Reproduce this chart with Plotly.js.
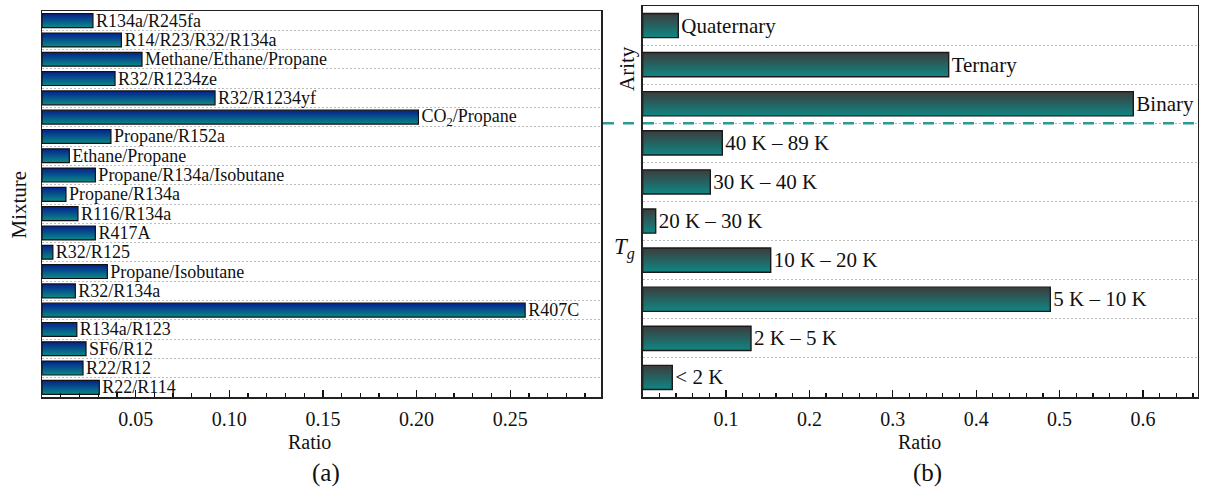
<!DOCTYPE html>
<html>
<head>
<meta charset="utf-8">
<script src="https://cdn.plot.ly/plotly-3.0.1.min.js"></script>
<style>
  html, body { margin: 0; padding: 0; background: #fff; }
  #chart { width: 1205px; height: 493px; }
</style>
</head>
<body>
<div id="chart"></div>
<script>
// (a) share of each mixture in the data set
const mixtures = [
  'R134a/R245fa', 'R14/R23/R32/R134a', 'Methane/Ethane/Propane', 'R32/R1234ze',
  'R32/R1234yf', 'CO<sub>2</sub>/Propane', 'Propane/R152a', 'Ethane/Propane',
  'Propane/R134a/Isobutane', 'Propane/R134a', 'R116/R134a', 'R417A', 'R32/R125',
  'Propane/Isobutane', 'R32/R134a', 'R407C', 'R134a/R123', 'SF6/R12', 'R22/R12', 'R22/R114'
];
const mixtureRatio = [
  0.0272, 0.0424, 0.0534, 0.0390,
  0.0924, 0.2010, 0.0368, 0.0146,
  0.0285, 0.0128, 0.0192, 0.0285, 0.0058,
  0.0349, 0.0178, 0.2580, 0.0186, 0.0235, 0.0219, 0.0306
];

// (b) share by number of components and by temperature glide
const groups = [
  'Quaternary', 'Ternary', 'Binary',
  '40 K – 89 K', '30 K – 40 K', '20 K – 30 K', '10 K – 20 K',
  '5 K – 10 K', '2 K – 5 K', '&lt; 2 K'
];
const groupRatio = [
  0.0428, 0.3670, 0.5884,
  0.0956, 0.0812, 0.0157, 0.1536,
  0.4889, 0.1300, 0.0356
];

const ticksA = [0.05, 0.10, 0.15, 0.20, 0.25];
const ticksB = [0.1, 0.2, 0.3, 0.4, 0.5, 0.6];

const SERIF = 'Liberation Serif';
const W = 1205, H = 493;
const px = v => v / W;
const py = v => (H - v) / H;

// vertical fills for the bars (top -> bottom)
const gradA = [['0%', '#04208f'], ['100%', '#0a8a86']];
const gradB = [['0%', '#3c3c3c'], ['100%', '#0f8784']];

const barA = {
  type: 'bar', orientation: 'h',
  x: mixtureRatio, y: mixtures,
  xaxis: 'x', yaxis: 'y',
  width: 0.72,
  marker: { color: '#05508a', line: { color: '#111', width: 1.2 } },
  text: mixtures, textposition: 'outside', cliponaxis: false, constraintext: 'none',
  textfont: { family: SERIF, size: 18, color: '#111' },
  hoverinfo: 'skip'
};

const barB = {
  type: 'bar', orientation: 'h',
  x: groupRatio, y: groups,
  xaxis: 'x2', yaxis: 'y2',
  width: 0.62,
  marker: { color: '#236262', line: { color: '#1a1a1a', width: 1.4 } },
  text: groups, textposition: 'outside', cliponaxis: false, constraintext: 'none',
  textfont: { family: SERIF, size: 21, color: '#111' },
  hoverinfo: 'skip'
};

const frame = { showline: true, linecolor: '#222', linewidth: 1.5, mirror: true, zeroline: false };

function ratioAxis(domain, range, vals, digits, minorStep) {
  return Object.assign({
    domain: domain, range: range,
    tickmode: 'array', tickvals: vals, ticktext: vals.map(v => v.toFixed(digits)),
    ticks: 'inside', ticklen: 7, tickwidth: 1.3, tickcolor: '#111',
    minor: { tickmode: 'linear', tick0: 0, dtick: minorStep, ticks: 'inside',
             ticklen: 4, tickwidth: 1.2, tickcolor: '#111', showgrid: false },
    showgrid: false,
    ticklabelstandoff: 3,
    tickfont: { family: SERIF, size: 20, color: '#111' }
  }, frame);
}

function categoryAxis(domain, n) {
  return Object.assign({
    domain: domain, type: 'category', range: [n - 0.5, -0.5],
    tickson: 'boundaries', ticks: '', showticklabels: false,
    showgrid: true, gridcolor: '#bcbcbc', gridwidth: 1, griddash: '2px,2px'
  }, frame);
}

const annFont = (size) => ({ family: SERIF, size: size, color: '#111' });
const label = (text, x, y, size, extra) => Object.assign({
  text: text, xref: 'paper', yref: 'paper', x: px(x), y: py(y),
  xanchor: 'center', yanchor: 'middle', showarrow: false, font: annFont(size)
}, extra || {});

const layout = {
  width: W, height: H,
  margin: { l: 0, r: 0, t: 0, b: 0 },
  paper_bgcolor: '#fff', plot_bgcolor: '#fff',
  showlegend: false,
  font: { family: SERIF, color: '#111' },
  xaxis: Object.assign(ratioAxis([px(42), px(601)], [0, 0.2985], ticksA, 2, 0.01), { anchor: 'y' }),
  yaxis: Object.assign(categoryAxis([py(397), py(11)], mixtures.length), { anchor: 'x' }),
  xaxis2: Object.assign(ratioAxis([px(642.6), px(1197.7)], [0, 0.6656], ticksB, 1, 0.02), { anchor: 'y2' }),
  yaxis2: Object.assign(categoryAxis([py(397), py(6)], groups.length), { anchor: 'x2' }),
  shapes: [{
    // separator between the arity block and the glide block
    type: 'line', xref: 'paper', yref: 'y2',
    x0: px(603), x1: px(1201), y0: 2.5, y1: 2.5,
    line: { color: '#2a9a9a', width: 2.5, dash: '11px,9px' }
  }],
  annotations: [
    label('Ratio', 310, 442, 20),
    label('Ratio', 919, 442, 20),
    label('(a)', 326, 473, 25),
    label('(b)', 927, 473, 25),
    label('Mixture', 18.5, 205, 21, { textangle: -90 }),
    label('Arity', 627, 69, 21, { textangle: -90 }),
    label('<i>T</i><sub><i>g</i></sub>', 624, 249, 23)
  ]
};

const gd = document.getElementById('chart');

function addGradient(defs, id, stops) {
  const ns = 'http://www.w3.org/2000/svg';
  const g = document.createElementNS(ns, 'linearGradient');
  g.setAttribute('id', id);
  g.setAttribute('x1', '0'); g.setAttribute('y1', '0');
  g.setAttribute('x2', '0'); g.setAttribute('y2', '1');
  stops.forEach(([offset, color]) => {
    const s = document.createElementNS(ns, 'stop');
    s.setAttribute('offset', offset);
    s.setAttribute('stop-color', color);
    g.appendChild(s);
  });
  defs.appendChild(g);
}

function applyGradients() {
  const svg = gd.querySelector('svg.main-svg');
  let defs = svg.querySelector('defs');
  if (!defs) {
    defs = document.createElementNS('http://www.w3.org/2000/svg', 'defs');
    svg.insertBefore(defs, svg.firstChild);
  }
  addGradient(defs, 'barFillA', gradA);
  addGradient(defs, 'barFillB', gradB);
  gd.querySelectorAll('.subplot.xy .barlayer .point path').forEach(p => { p.style.fill = 'url(#barFillA)'; });
  gd.querySelectorAll('.subplot.x2y2 .barlayer .point path').forEach(p => { p.style.fill = 'url(#barFillB)'; });
}

Plotly.newPlot(gd, [barA, barB], layout, { staticPlot: true, displayModeBar: false })
  .then(applyGradients);
</script>
</body>
</html>
